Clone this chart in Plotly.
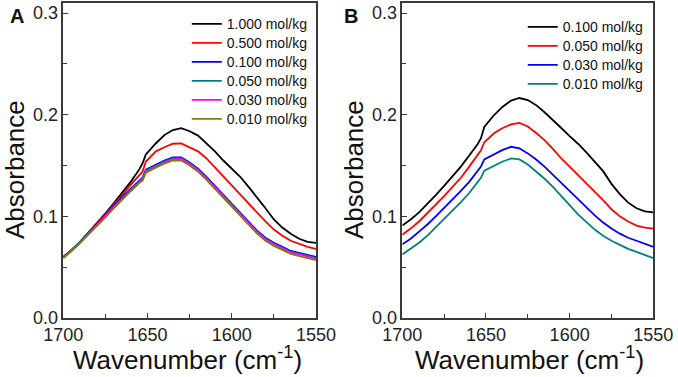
import plotly.graph_objects as go

# ---------------- data ----------------
wavenumber = [1700, 1695, 1690, 1685, 1680, 1675, 1670, 1665, 1660, 1655, 1653, 1651,
              1645, 1640, 1635, 1630, 1625, 1620, 1615, 1610, 1605, 1600, 1595, 1590,
              1585, 1580, 1575, 1570, 1565, 1560, 1555, 1550]

# Panel A
a_labels = ["1.000 mol/kg", "0.500 mol/kg", "0.100 mol/kg", "0.050 mol/kg", "0.030 mol/kg", "0.010 mol/kg"]
a_1000 = [0.060, 0.067, 0.075, 0.084, 0.093, 0.103, 0.113, 0.123, 0.134, 0.146, 0.152, 0.161,
          0.172, 0.180, 0.185, 0.1868, 0.1838, 0.1795, 0.172, 0.164, 0.155, 0.147, 0.139, 0.129,
          0.119, 0.108, 0.097, 0.089, 0.083, 0.078, 0.075, 0.074]
a_0500 = [0.060, 0.067, 0.075, 0.084, 0.093, 0.102, 0.112, 0.121, 0.131, 0.140, 0.144, 0.154,
          0.164, 0.168, 0.1715, 0.1718, 0.168, 0.164, 0.157, 0.148, 0.139, 0.131, 0.121, 0.112,
          0.103, 0.095, 0.087, 0.081, 0.076, 0.073, 0.070, 0.068]
a_0100 = [0.060, 0.067, 0.075, 0.084, 0.092, 0.101, 0.110, 0.119, 0.127, 0.135, 0.138, 0.146,
          0.151, 0.155, 0.158, 0.158, 0.153, 0.147, 0.139, 0.130, 0.121, 0.112, 0.103, 0.094,
          0.086, 0.079, 0.074, 0.070, 0.066, 0.064, 0.062, 0.060]
a_0050 = [0.060, 0.067, 0.075, 0.083, 0.092, 0.100, 0.109, 0.118, 0.126, 0.134, 0.137, 0.145,
          0.150, 0.154, 0.157, 0.157, 0.152, 0.146, 0.138, 0.129, 0.120, 0.111, 0.102, 0.093,
          0.085, 0.078, 0.073, 0.069, 0.065, 0.063, 0.061, 0.059]
a_0030 = [0.059, 0.066, 0.074, 0.083, 0.091, 0.100, 0.109, 0.117, 0.125, 0.133, 0.136, 0.144,
          0.149, 0.153, 0.156, 0.1565, 0.1515, 0.1455, 0.1375, 0.1285, 0.1195, 0.1105, 0.1015, 0.0925,
          0.0845, 0.0775, 0.0725, 0.0685, 0.0645, 0.0625, 0.0605, 0.0585]
a_0010 = [0.059, 0.066, 0.074, 0.082, 0.091, 0.099, 0.108, 0.117, 0.125, 0.133, 0.135, 0.143,
          0.148, 0.152, 0.155, 0.155, 0.150, 0.144, 0.136, 0.127, 0.118, 0.109, 0.100, 0.091,
          0.083, 0.076, 0.071, 0.067, 0.063, 0.061, 0.059, 0.057]
a_series = [a_1000, a_0500, a_0100, a_0050, a_0030, a_0010]
a_colors = ["#000000", "#ff0000", "#0000ff", "#008080", "#ff00ff", "#808000"]

# Panel B
b_labels = ["0.100 mol/kg", "0.050 mol/kg", "0.030 mol/kg", "0.010 mol/kg"]
b_0100 = [0.091, 0.097, 0.104, 0.112, 0.121, 0.130, 0.139, 0.149, 0.160, 0.171, 0.177, 0.188,
          0.200, 0.208, 0.2140, 0.2165, 0.2145, 0.2095, 0.2025, 0.195, 0.187, 0.179, 0.1715, 0.163,
          0.154, 0.1445, 0.132, 0.122, 0.1135, 0.108, 0.105, 0.104]
b_0050 = [0.082, 0.088, 0.095, 0.103, 0.111, 0.120, 0.129, 0.138, 0.149, 0.160, 0.165, 0.173,
          0.182, 0.1870, 0.1905, 0.192, 0.1885, 0.182, 0.175, 0.1665, 0.157, 0.149, 0.141, 0.133,
          0.125, 0.116, 0.107, 0.100, 0.095, 0.091, 0.089, 0.088]
b_0030 = [0.0725, 0.078, 0.085, 0.092, 0.100, 0.108, 0.116, 0.125, 0.134, 0.144, 0.149, 0.156,
          0.161, 0.1655, 0.1685, 0.167, 0.162, 0.156, 0.149, 0.141, 0.132, 0.124, 0.116, 0.108,
          0.101, 0.094, 0.088, 0.083, 0.079, 0.076, 0.073, 0.070]
b_0010 = [0.0626, 0.068, 0.074, 0.081, 0.089, 0.097, 0.105, 0.114, 0.123, 0.133, 0.138, 0.145,
          0.150, 0.154, 0.157, 0.156, 0.151, 0.144, 0.137, 0.129, 0.1195, 0.111, 0.102, 0.094,
          0.087, 0.081, 0.076, 0.072, 0.068, 0.065, 0.062, 0.059]
b_series = [b_0100, b_0050, b_0030, b_0010]
b_colors = ["#000000", "#ff0000", "#0000ff", "#008080"]

x_ticks = [1700, 1650, 1600, 1550]
y_ticks = [0.0, 0.1, 0.2, 0.3]

W, H = 678, 377


def px(x):
    return x / W


def py(y):
    return 1 - y / H


def legend_name(s):
    return '<span style="font-size:14px">' + s + '</span>'


# ---------------- figure ----------------
FONT = "Liberation Sans, Arial, sans-serif"
fig = go.Figure()
for lab, ys, col in zip(a_labels, a_series, a_colors):
    fig.add_trace(go.Scatter(x=wavenumber, y=ys, name=legend_name(lab), mode="lines",
                             line=dict(color=col, width=1.8), xaxis="x", yaxis="y", legend="legend"))
for lab, ys, col in zip(b_labels, b_series, b_colors):
    fig.add_trace(go.Scatter(x=wavenumber, y=ys, name=legend_name(lab), mode="lines",
                             line=dict(color=col, width=1.8), xaxis="x2", yaxis="y2", legend="legend2"))

axis_common = dict(showline=True, linecolor="#3a3a3a", linewidth=1.5, mirror=True,
                   ticks="inside", ticklen=5, tickwidth=1.2, tickcolor="#3a3a3a",
                   showgrid=False, zeroline=False, automargin=False,
                   tickfont=dict(size=18, color="#222"))
xa = dict(axis_common, range=[1700, 1550], tickvals=x_ticks,
          minor=dict(dtick=25, ticks="inside", ticklen=4, tickcolor="#3a3a3a", tickwidth=1.2))
ya = dict(axis_common, range=[0, 0.31], tickvals=y_ticks, tickformat=".1f",
          minor=dict(dtick=0.05, ticks="inside", ticklen=4, tickcolor="#3a3a3a", tickwidth=1.2))

ydom = [py(318), py(3)]
xdomA = [px(63.3), px(316)]
xdomB = [px(402.3), px(653.3)]
title_font = dict(size=26, color="#111")
legend_common = dict(xanchor="left", yanchor="top", bgcolor="rgba(0,0,0,0)",
                     font=dict(size=12), itemwidth=30, tracegroupgap=0)

fig.update_layout(
    width=W, height=H,
    margin=dict(l=0, r=0, t=0, b=0, autoexpand=False),
    paper_bgcolor="white", plot_bgcolor="white",
    font=dict(family=FONT, color="#111"),
    showlegend=True,
    xaxis=dict(xa, domain=xdomA, anchor="y"),
    yaxis=dict(ya, domain=ydom, anchor="x"),
    xaxis2=dict(xa, domain=xdomB, anchor="y2"),
    yaxis2=dict(ya, domain=ydom, anchor="x2"),
    legend=dict(legend_common, x=0.2755, y=0.975),
    legend2=dict(legend_common, x=0.771, y=0.967),
    annotations=[
        dict(text="<b>A</b>", x=px(8), y=py(3), xref="paper", yref="paper",
             xanchor="left", yanchor="top", showarrow=False, font=dict(size=20, color="#111")),
        dict(text="<b>B</b>", x=px(342), y=py(3), xref="paper", yref="paper",
             xanchor="left", yanchor="top", showarrow=False, font=dict(size=20, color="#111")),
        dict(text="Absorbance", textangle=-90, x=px(15), y=py(170), xref="paper", yref="paper",
             xanchor="center", yanchor="middle", showarrow=False, font=title_font),
        dict(text="Absorbance", textangle=-90, x=px(354), y=py(170), xref="paper", yref="paper",
             xanchor="center", yanchor="middle", showarrow=False, font=title_font),
        dict(text="Wavenumber (cm<sup>-1</sup>)", x=px(187), y=py(358), xref="paper", yref="paper",
             xanchor="center", yanchor="middle", showarrow=False, font=title_font),
        dict(text="Wavenumber (cm<sup>-1</sup>)", x=px(529), y=py(358), xref="paper", yref="paper",
             xanchor="center", yanchor="middle", showarrow=False, font=title_font),
    ],
)

fig.write_html("out.html", config={"displayModeBar": False},
               post_script="document.body.style.margin='0';")
